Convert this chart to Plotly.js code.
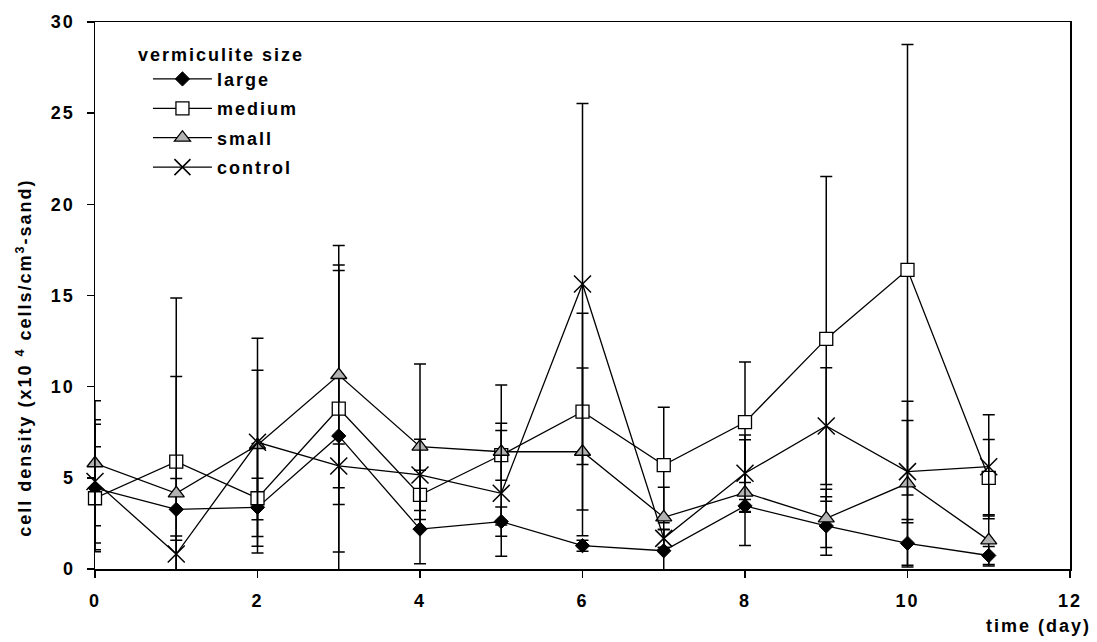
<!DOCTYPE html>
<html>
<head>
<meta charset="utf-8">
<script src="https://cdn.plot.ly/plotly-3.0.1.min.js"></script>
<style>
  html, body { margin: 0; padding: 0; background: #ffffff; }
  #chart { width: 1097px; height: 642px; }
  /* slightly open letter spacing, as in the printed figure (global so text measuring sees it too) */
  text { letter-spacing: 2px; }
</style>
</head>
<body>
<div id="chart"></div>
<script>
// Sampling days
var days = [0, 1, 2, 3, 4, 5, 6, 7, 8, 9, 10, 11];

// Mean cell density (x10^4 cells/cm3-sand) and standard deviations
var large      = [4.44, 3.27, 3.38, 7.30, 2.19, 2.60, 1.28, 1.00, 3.46, 2.36, 1.41, 0.74];
var largeErr   = [3.50, 1.70, 1.60, 9.07, 1.90, 0.80, 0.30, 1.15, 0.35, 1.60, 1.30, 0.50];

var medium     = [3.88, 5.89, 3.88, 8.80, 4.06, 6.25, 8.63, 5.70, 8.05, 12.62, 16.41, 5.00];
var mediumErr  = [2.83, 8.97, 3.00, 7.87, 1.35, 3.84, 5.40, 3.17, 3.30, 8.90, 12.35, 2.10];

var small      = [5.80, 4.15, 6.80, 10.64, 6.71, 6.43, 6.43, 2.83, 4.19, 2.78, 4.70, 1.57];
var smallErr   = [3.43, 6.41, 4.10, 7.10, 4.54, 1.56, 4.60, 1.65, 2.90, 1.60, 4.50, 1.40];

var control    = [4.80, 0.82, 6.95, 5.65, 5.16, 4.15, 15.63, 1.68, 5.25, 7.84, 5.34, 5.61];
var controlErr = [3.38, 0.99, 5.70, 1.20, 1.95, 3.45, 9.90, 0.50, 2.10, 3.20, 2.81, 2.85];

var xTicks = [0, 2, 4, 6, 8, 10, 12];
var yTicks = [0, 5, 10, 15, 20, 25, 30];

var FONT = 'Liberation Sans, Arial, sans-serif';

function series(name, y, err, marker) {
  return {
    type: 'scatter',
    mode: 'lines+markers',
    name: name,
    legendgroup: name,
    x: days,
    y: y,
    cliponaxis: false,
    line: { color: '#000000', width: 1.3 },
    marker: marker,
    error_y: {
      type: 'data',
      array: err,
      visible: true,
      color: '#000000',
      thickness: 1.5,
      width: 6
    }
  };
}

var traces = [
  series('large', large, largeErr,
    { symbol: 'diamond', size: 11, color: '#000000', line: { color: '#000000', width: 1 } }),
  series('medium', medium, mediumErr,
    { symbol: 'square', size: 13, color: '#ffffff', line: { color: '#000000', width: 1.3 } }),
  series('small', small, smallErr,
    { symbol: 'triangle-up', size: 14, color: '#b2b2b2', line: { color: '#000000', width: 1.3 } }),
  series('control', control, controlErr,
    { symbol: 'x-thin-open', size: 17, color: '#000000', line: { color: '#000000', width: 1.5 } })
];

var axisCommon = {
  showgrid: false,
  zeroline: false,
  showline: true,
  linecolor: '#000000',
  linewidth: 1.5,
  mirror: true,
  ticks: 'outside',
  ticklen: 7,
  tickwidth: 1.5,
  tickcolor: '#000000',
  tickfont: { family: FONT, size: 18, color: '#000000', weight: 'bold' }
};

var layout = {
  width: 1097,
  height: 642,
  paper_bgcolor: '#ffffff',
  plot_bgcolor: 'rgba(0,0,0,0)',
  margin: { l: 95, r: 27, t: 22, b: 73 },
  showlegend: true,
  legend: {
    x: 0.042,
    y: 0.972,
    xanchor: 'left',
    yanchor: 'top',
    bgcolor: 'rgba(0,0,0,0)',
    borderwidth: 0,
    traceorder: 'grouped',
    tracegroupgap: 3,
    itemwidth: 59,
    indentation: 12,
    font: { family: FONT, size: 18, color: '#000000', weight: 'bold' },
    title: { text: 'vermiculite size', font: { family: FONT, size: 18, color: '#000000', weight: 'bold' } }
  },
  xaxis: Object.assign({}, axisCommon, {
    range: [0, 12],
    tickvals: xTicks,
    ticktext: xTicks.map(String),
    ticklabelstandoff: 8
  }),
  yaxis: Object.assign({}, axisCommon, {
    range: [0, 30],
    tickvals: yTicks,
    ticktext: yTicks.map(String),
    ticklabelstandoff: 8
  }),
  annotations: [
    {
      xref: 'paper', yref: 'paper',
      x: 1.024, y: -0.105,
      xanchor: 'right', yanchor: 'middle',
      showarrow: false,
      text: 'time (day)',
      font: { family: FONT, size: 18, color: '#000000', weight: 'bold' }
    },
    {
      xref: 'paper', yref: 'paper',
      x: -0.072, y: 0.386,
      xanchor: 'center', yanchor: 'middle',
      textangle: -90,
      showarrow: false,
      text: 'cell density (x10 <sup>4</sup> cells/cm<sup>3</sup>-sand)',
      font: { family: FONT, size: 18, color: '#000000', weight: 'bold' }
    }
  ]
};

Plotly.newPlot('chart', traces, layout, { displayModeBar: false, staticPlot: true });
</script>
</body>
</html>
